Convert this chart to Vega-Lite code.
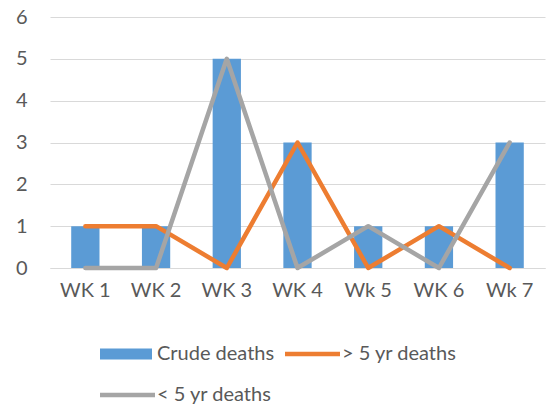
{
  "$schema": "https://vega.github.io/schema/vega-lite/v6.json",
  "width": 495,
  "height": 251,
  "autosize": "none",
  "padding": {"left": 50, "top": 17, "right": 8, "bottom": 139},
  "background": "white",
  "config": {
    "view": {"stroke": null},
    "font": "Lato",
    "axis": {"labelFont": "Lato", "labelColor": "#595959", "labelFontSize": 20}
  },
  "data": {
    "values": [
      {"week": "WK 1", "series": "Crude deaths", "value": 1},
      {"week": "WK 2", "series": "Crude deaths", "value": 1},
      {"week": "WK 3", "series": "Crude deaths", "value": 5},
      {"week": "WK 4", "series": "Crude deaths", "value": 3},
      {"week": "Wk 5", "series": "Crude deaths", "value": 1},
      {"week": "WK 6", "series": "Crude deaths", "value": 1},
      {"week": "Wk 7", "series": "Crude deaths", "value": 3},
      {"week": "WK 1", "series": "> 5 yr deaths", "value": 1},
      {"week": "WK 2", "series": "> 5 yr deaths", "value": 1},
      {"week": "WK 3", "series": "> 5 yr deaths", "value": 0},
      {"week": "WK 4", "series": "> 5 yr deaths", "value": 3},
      {"week": "Wk 5", "series": "> 5 yr deaths", "value": 0},
      {"week": "WK 6", "series": "> 5 yr deaths", "value": 1},
      {"week": "Wk 7", "series": "> 5 yr deaths", "value": 0},
      {"week": "WK 1", "series": "< 5 yr deaths", "value": 0},
      {"week": "WK 2", "series": "< 5 yr deaths", "value": 0},
      {"week": "WK 3", "series": "< 5 yr deaths", "value": 5},
      {"week": "WK 4", "series": "< 5 yr deaths", "value": 0},
      {"week": "Wk 5", "series": "< 5 yr deaths", "value": 1},
      {"week": "WK 6", "series": "< 5 yr deaths", "value": 0},
      {"week": "Wk 7", "series": "< 5 yr deaths", "value": 3}
    ]
  },
  "encoding": {
    "x": {
      "field": "week", "type": "nominal", "sort": null, "title": null,
      "scale": {"paddingInner": 0.6, "paddingOuter": 0.3},
      "axis": {"labelAngle": 0, "ticks": false, "domain": true, "domainColor": "#D9D9D9", "labelPadding": 12}
    },
    "y": {
      "field": "value", "type": "quantitative", "title": null,
      "scale": {"domain": [0, 6], "nice": false},
      "axis": {"values": [0, 1, 2, 3, 4, 5, 6], "ticks": false, "domain": false, "gridColor": "#D9D9D9", "labelPadding": 23}
    },
    "color": {
      "field": "series", "type": "nominal",
      "scale": {"domain": ["Crude deaths", "> 5 yr deaths", "< 5 yr deaths"], "range": ["#5B9BD5", "#ED7D31", "#A5A5A5"]},
      "legend": {
        "title": null, "orient": "none", "legendX": 50, "legendY": 327, "direction": "horizontal", "columns": 2,
        "labelFont": "Lato", "labelFontSize": 20, "labelColor": "#595959", "labelOffset": 37,
        "columnPadding": 10, "rowPadding": 21,
        "symbolType": "M-1,-0.55H4.2V0.55H-1Z", "symbolSize": 400, "symbolStrokeWidth": 0,
        "encode": {
          "symbols": {"update": {"shape": {"signal": "datum.value === 'Crude deaths' ? 'M-1,-0.55H4.2V0.55H-1Z' : 'M-1,-0.22H4.5V0.22H-1Z'"}, "strokeWidth": {"value": 0}}}
        }
      }
    }
  },
  "layer": [
    {"transform": [{"filter": "datum.series === 'Crude deaths'"}], "mark": {"type": "bar"}},
    {"transform": [{"filter": "datum.series !== 'Crude deaths'"}], "mark": {"type": "line", "strokeWidth": 4.5, "strokeCap": "round", "strokeJoin": "round"}}
  ]
}
